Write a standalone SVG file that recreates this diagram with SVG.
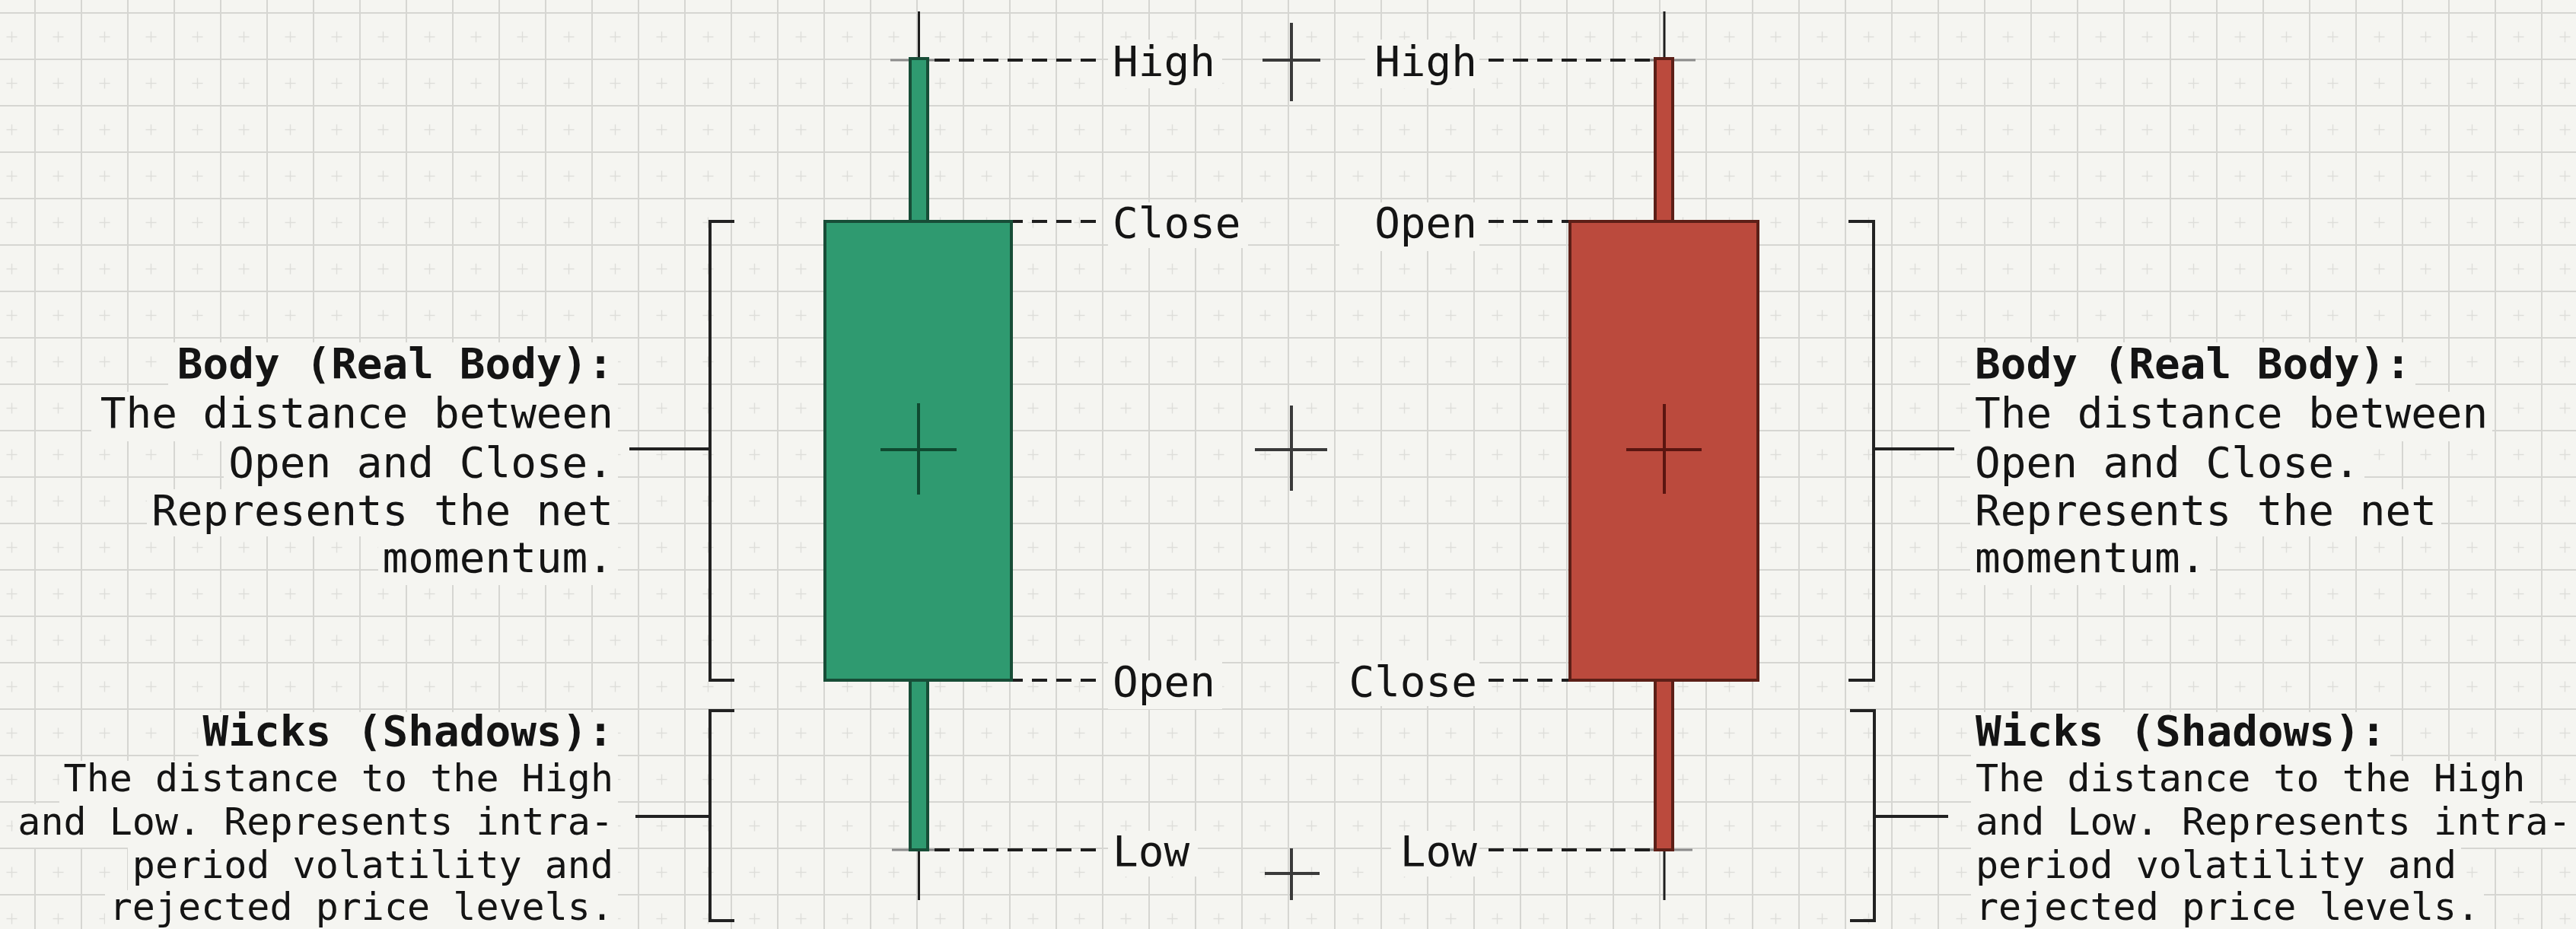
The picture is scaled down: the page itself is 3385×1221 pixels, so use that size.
<svg xmlns="http://www.w3.org/2000/svg" width="3385" height="1221" viewBox="0 0 3385 1221">
<defs>
<pattern id="grid" x="45" y="16" width="61" height="61" patternUnits="userSpaceOnUse">
<rect x="0" y="0" width="61" height="2" fill="#d6d6d2"/>
<rect x="0" y="0" width="2" height="61" fill="#d6d6d2"/>
<path d="M24.5 32.5 H38.5 M31.5 25.5 V39.5" stroke="#dededa" stroke-width="1.5" fill="none"/>
</pattern>
<style>
.txt{font-family:"DejaVu Sans Mono","Liberation Mono",monospace;fill:#141414}
.lbl{font-size:56px}
.ttl{font-size:56px;font-weight:bold}
.d1{font-size:56px}
.d2{font-size:50px}
.bg{fill:#f5f5f1}
.dash{stroke:#1e1e1e;stroke-width:4;stroke-dasharray:20 12;fill:none}
.tick{stroke:#8c8c8c;stroke-width:3;fill:none}
.stem{stroke:#1e1e1e;stroke-width:3;fill:none}
.brk{stroke:#222;stroke-width:4;fill:none}
.cross{stroke:#3a3a3a;stroke-width:4;fill:none}
.gbody{fill:#2f9a70;stroke:#174d37;stroke-width:4}
.rbody{fill:#bb4a3d;stroke:#5c1f17;stroke-width:4}
</style>
</defs>
<rect x="0" y="0" width="3385" height="1221" fill="#f5f5f1"/>
<rect x="0" y="0" width="3385" height="1221" fill="url(#grid)"/>

<g id="reference-crosses">
<path class="cross" d="M1659 79 H1735 M1697 30 V133"/>
<path class="cross" d="M1649 591 H1744 M1697 533 V645"/>
<path class="cross" d="M1662 1148 H1734 M1697 1115 V1183"/>
</g>

<g id="connectors">
<path class="tick" d="M1170 79 H1245 M1172 1117 H1243"/>
<path class="tick" d="M2148 79 H2228 M2150 1117 H2224"/>
<path class="stem" d="M1207.5 15 V79 M1207.5 1117 V1183"/>
<path class="stem" d="M2187 15 V79 M2187 1117 V1183"/>
<path class="dash" d="M1440 79 H1224"/>
<path class="dash" d="M1440 291 H1331"/>
<path class="dash" d="M1440 894 H1331"/>
<path class="dash" d="M1440 1117 H1224"/>
<path class="dash" d="M1956 79 H2176"/>
<path class="dash" d="M1956 291 H2062"/>
<path class="dash" d="M1956 894 H2062"/>
<path class="dash" d="M1956 1117 H2178"/>
<path class="brk" d="M965 291 H933 V894 H965 M933 590 H827"/>
<path class="brk" d="M965 934 H933 V1210 H965 M933 1073 H835"/>
<path class="brk" d="M2429 291 H2462 V894 H2429 M2462 590 H2568"/>
<path class="brk" d="M2431 934 H2463 V1210 H2431 M2463 1073 H2560"/>
</g>

<g id="bullish-candle">
<rect class="gbody" x="1196" y="77" width="23" height="214"/>
<rect class="gbody" x="1196" y="894" width="23" height="223"/>
<rect class="gbody" x="1084" y="291" width="245" height="603"/>
<path d="M1157 591 H1257 M1207 530 V650" stroke="#0f4a30" stroke-width="4" fill="none"/>
</g>

<g id="bearish-candle">
<rect class="rbody" x="2175" y="77" width="23" height="214"/>
<rect class="rbody" x="2175" y="894" width="23" height="223"/>
<rect class="rbody" x="2063" y="291" width="247" height="603"/>
<path d="M2137 591 H2236 M2187 531 V649" stroke="#5a1510" stroke-width="4" fill="none"/>
</g>

<g id="bullish-labels">
<rect class="bg" x="1456" y="52" width="150" height="64"/>
<rect class="bg" x="1456" y="266" width="184" height="60"/>
<rect class="bg" x="1456" y="868" width="150" height="64"/>
<rect class="bg" x="1456" y="1092" width="118" height="60"/>
<text class="txt lbl" x="1462" y="100">High</text>
<text class="txt lbl" x="1462" y="312">Close</text>
<text class="txt lbl" x="1462" y="915">Open</text>
<text class="txt lbl" x="1462" y="1138">Low</text>
</g>

<g id="bearish-labels">
<rect class="bg" x="1794" y="52" width="150" height="64"/>
<rect class="bg" x="1760" y="266" width="184" height="64"/>
<rect class="bg" x="1760" y="868" width="184" height="60"/>
<rect class="bg" x="1828" y="1092" width="116" height="60"/>
<text class="txt lbl" x="1941" y="100" text-anchor="end">High</text>
<text class="txt lbl" x="1941" y="312" text-anchor="end">Open</text>
<text class="txt lbl" x="1941" y="915" text-anchor="end">Close</text>
<text class="txt lbl" x="1941" y="1138" text-anchor="end">Low</text>
</g>

<g id="left-body-note">
<rect class="bg" x="221" y="450" width="591" height="65"/>
<rect class="bg" x="120" y="515" width="692" height="65"/>
<rect class="bg" x="294" y="580" width="518" height="63"/>
<rect class="bg" x="193" y="643" width="619" height="62"/>
<rect class="bg" x="497" y="705" width="315" height="64"/>
<text class="txt ttl" x="806" y="497" text-anchor="end">Body (Real Body):</text>
<text class="txt d1" x="806" y="562" text-anchor="end">The distance between</text>
<text class="txt d1" x="806" y="627" text-anchor="end">Open and Close.</text>
<text class="txt d1" x="806" y="690" text-anchor="end">Represents the net</text>
<text class="txt d1" x="806" y="752" text-anchor="end">momentum.</text>
</g>

<g id="left-wick-note">
<rect class="bg" x="261" y="936" width="551" height="64"/>
<rect class="bg" x="78" y="1000" width="734" height="57"/>
<rect class="bg" x="17" y="1057" width="795" height="57"/>
<rect class="bg" x="168" y="1114" width="644" height="56"/>
<rect class="bg" x="138" y="1170" width="674" height="51"/>
<text class="txt ttl" x="806" y="980" text-anchor="end">Wicks (Shadows):</text>
<text class="txt d2" x="806" y="1040" text-anchor="end">The distance to the High</text>
<text class="txt d2" x="806" y="1097" text-anchor="end">and Low. Represents intra-</text>
<text class="txt d2" x="806" y="1154" text-anchor="end">period volatility and</text>
<text class="txt d2" x="806" y="1209" text-anchor="end">rejected price levels.</text>
</g>

<g id="right-body-note">
<rect class="bg" x="2589" y="450" width="585" height="65"/>
<rect class="bg" x="2589" y="515" width="686" height="65"/>
<rect class="bg" x="2589" y="580" width="518" height="63"/>
<rect class="bg" x="2589" y="643" width="619" height="62"/>
<rect class="bg" x="2589" y="705" width="315" height="64"/>
<text class="txt ttl" x="2595" y="497">Body (Real Body):</text>
<text class="txt d1" x="2595" y="562">The distance between</text>
<text class="txt d1" x="2595" y="627">Open and Close.</text>
<text class="txt d1" x="2595" y="690">Represents the net</text>
<text class="txt d1" x="2595" y="752">momentum.</text>
</g>

<g id="right-wick-note">
<rect class="bg" x="2590" y="936" width="551" height="64"/>
<rect class="bg" x="2590" y="1000" width="734" height="57"/>
<rect class="bg" x="2590" y="1057" width="795" height="57"/>
<rect class="bg" x="2590" y="1114" width="644" height="56"/>
<rect class="bg" x="2590" y="1170" width="674" height="51"/>
<text class="txt ttl" x="2596" y="980">Wicks (Shadows):</text>
<text class="txt d2" x="2596" y="1040">The distance to the High</text>
<text class="txt d2" x="2596" y="1097">and Low. Represents intra-</text>
<text class="txt d2" x="2596" y="1154">period volatility and</text>
<text class="txt d2" x="2596" y="1209">rejected price levels.</text>
</g>
</svg>
